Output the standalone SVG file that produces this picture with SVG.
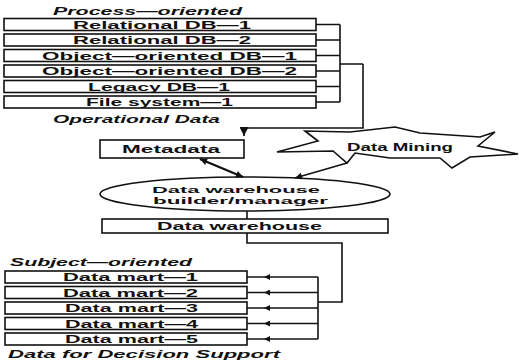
<svg xmlns="http://www.w3.org/2000/svg" width="519" height="360" viewBox="0 0 519 360">
  <style>
    .box { fill: #fff; stroke: #111; stroke-width: 1.6; }
    .t { font-family: "Liberation Sans", Arial, sans-serif; font-weight: bold; font-size: 11px; fill: #111; }
    .it { font-style: italic; font-size: 10px; }
    .sm { font-size: 9.5px; }
    .ln { fill: none; stroke: #111; stroke-width: 1.6; }
    .thick { fill: none; stroke: #111; stroke-width: 2.4; }
  </style>
  <defs>
    <marker id="tri" viewBox="0 0 10 10" refX="10" refY="5" markerUnits="userSpaceOnUse" markerWidth="12" markerHeight="9" orient="auto">
      <path d="M0,0 L10,5 L0,10 z" fill="#111"/>
    </marker>
    <marker id="mid" viewBox="0 0 10 10" refX="5" refY="5" markerUnits="userSpaceOnUse" markerWidth="10" markerHeight="6" orient="auto">
      <path d="M0,0 L10,5 L0,10 z" fill="#111"/>
    </marker>
    <marker id="head" viewBox="0 0 10 10" refX="10" refY="5" markerUnits="userSpaceOnUse" markerWidth="10" markerHeight="7" orient="auto-start-reverse">
      <path d="M0,0 L10,5 L0,10 z" fill="#111"/>
    </marker>
  </defs>

  <!-- operational sources -->
  <text class="t it" x="53" y="15" textLength="189" lengthAdjust="spacingAndGlyphs">Process—oriented</text>
  <g id="rdb1"><rect class="box" x="4" y="18.5" width="312" height="12"/><text class="t" x="73" y="28.5" textLength="178" lengthAdjust="spacingAndGlyphs">Relational DB—1</text></g>
  <g id="rdb2"><rect class="box" x="4" y="34" width="312" height="12"/><text class="t" x="73" y="44" textLength="178" lengthAdjust="spacingAndGlyphs">Relational DB—2</text></g>
  <g id="oodb1"><rect class="box" x="4" y="49.5" width="312" height="12"/><text class="t" x="42" y="59.5" textLength="255" lengthAdjust="spacingAndGlyphs">Object—oriented DB—1</text></g>
  <g id="oodb2"><rect class="box" x="4" y="65" width="312" height="12"/><text class="t" x="42" y="75" textLength="255" lengthAdjust="spacingAndGlyphs">Object—oriented DB—2</text></g>
  <g id="legacy1"><rect class="box" x="4" y="80.5" width="312" height="12"/><text class="t" x="88" y="90.5" textLength="142" lengthAdjust="spacingAndGlyphs">Legacy DB—1</text></g>
  <g id="fs1"><rect class="box" x="4" y="96" width="312" height="12"/><text class="t" x="86" y="106" textLength="147" lengthAdjust="spacingAndGlyphs">File system—1</text></g>
  <text class="t it" x="53" y="123" textLength="167" lengthAdjust="spacingAndGlyphs">Operational Data</text>

  <!-- warehouse core -->
  <g id="metadata"><rect class="box" x="100" y="140" width="144" height="18"/><text class="t" x="122" y="153" textLength="98" lengthAdjust="spacingAndGlyphs">Metadata</text></g>
  <g id="mining">
    <path class="box" d="M277,152 L318,141 L305,131 L350,132 L395,127 L420,133 L480,137 L495,132 L478,146 L518,154 L470,157 L452,168 L440,158 L390,158 L355,153 L347,163 L333,151 Z"/>
    <text class="t" x="347" y="151" textLength="106" lengthAdjust="spacingAndGlyphs">Data Mining</text>
  </g>
  <g id="builder">
    <ellipse class="box" cx="245" cy="194" rx="145" ry="17"/>
    <text class="t sm" x="152" y="193" textLength="168" lengthAdjust="spacingAndGlyphs">Data warehouse</text>
    <text class="t sm" x="153" y="204" textLength="175" lengthAdjust="spacingAndGlyphs">builder/manager</text>
  </g>
  <g id="warehouse"><rect class="box" x="102" y="219" width="286" height="14"/><text class="t" x="157" y="230" textLength="165" lengthAdjust="spacingAndGlyphs">Data warehouse</text></g>

  <!-- decision support -->
  <text class="t it" x="10" y="266" textLength="182" lengthAdjust="spacingAndGlyphs">Subject—oriented</text>
  <g id="mart1"><rect class="box" x="5" y="271" width="242" height="12"/><text class="t" x="63" y="281" textLength="135" lengthAdjust="spacingAndGlyphs">Data mart—1</text></g>
  <g id="mart2"><rect class="box" x="5" y="286.5" width="242" height="12"/><text class="t" x="63" y="296.5" textLength="135" lengthAdjust="spacingAndGlyphs">Data mart—2</text></g>
  <g id="mart3"><rect class="box" x="5" y="302" width="242" height="12"/><text class="t" x="65" y="312" textLength="133" lengthAdjust="spacingAndGlyphs">Data mart—3</text></g>
  <g id="mart4"><rect class="box" x="5" y="317.5" width="242" height="12"/><text class="t" x="65" y="327.5" textLength="133" lengthAdjust="spacingAndGlyphs">Data mart—4</text></g>
  <g id="mart5"><rect class="box" x="5" y="333" width="242" height="12"/><text class="t" x="65" y="343" textLength="133" lengthAdjust="spacingAndGlyphs">Data mart—5</text></g>
  <text class="t it" x="8" y="358" textLength="272" lengthAdjust="spacingAndGlyphs">Data for Decision Support</text>

  <g id="connectors">
    <!-- source bracket -->
    <path class="ln" d="M316,24.5 H340 M316,40 H340 M316,55.5 H340 M316,71 H340 M316,86.5 H340 M316,102 H340 M340,24.5 V102 M340,64 H363"/>
    <path class="ln" d="M363,64 V128 H244 V136" marker-end="url(#tri)"/>
    <!-- metadata and mining to builder -->
    <path class="thick" d="M200,159 L243,177" marker-start="url(#head)" marker-end="url(#head)"/>
    <path class="ln" d="M347,163 L295,178" stroke-width="2" marker-end="url(#head)"/>
    <!-- builder to warehouse to marts -->
    <path class="ln" d="M247,211 V219"/>
    <path class="ln" d="M247,233 V243 H342 V302 H318"/>
    <path class="ln" d="M318,277 V339"/>
    <path class="ln" d="M318,277 L267,277 L247,277" marker-mid="url(#mid)"/>
    <path class="ln" d="M318,292.5 L267,292.5 L247,292.5" marker-mid="url(#mid)"/>
    <path class="ln" d="M318,308 L267,308 L247,308" marker-mid="url(#mid)"/>
    <path class="ln" d="M318,323.5 L267,323.5 L247,323.5" marker-mid="url(#mid)"/>
    <path class="ln" d="M318,339 L267,339 L247,339" marker-mid="url(#mid)"/>
  </g>
</svg>
